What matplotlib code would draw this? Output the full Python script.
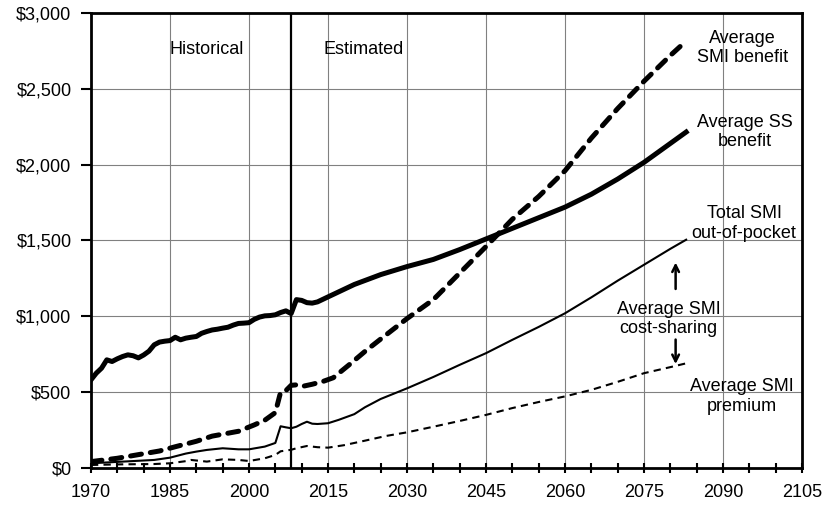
import matplotlib
matplotlib.use("Agg")
import matplotlib.pyplot as plt
from matplotlib.ticker import MultipleLocator, FuncFormatter

plt.rcParams['font.family'] = ['Liberation Sans', 'DejaVu Sans']
plt.rcParams['font.size'] = 13

# Average SS benefit (thick solid)
ss_years = [1970, 1971, 1972, 1973, 1974, 1975, 1976, 1977, 1978, 1979, 1980, 1981, 1982,
            1983, 1984, 1985, 1986, 1987, 1988, 1989, 1990, 1991, 1992, 1993, 1994, 1995,
            1996, 1997, 1998, 1999, 2000, 2001, 2002, 2003, 2004, 2005, 2006, 2007, 2008,
            2009, 2010, 2011, 2012, 2013, 2015, 2020, 2025, 2030, 2035, 2040, 2045, 2050,
            2055, 2060, 2065, 2070, 2075, 2080, 2083]
ss_benefit = [581, 625, 658, 713, 702, 720, 735, 746, 740, 726, 745, 770, 812,
              830, 836, 840, 862, 845, 856, 862, 867, 888, 900, 910, 915, 922,
              928, 942, 953, 955, 958, 980, 995, 1003, 1005, 1010, 1025, 1036, 1018,
              1110, 1105, 1090, 1087, 1095, 1128, 1210, 1275, 1328, 1375, 1440, 1510, 1580,
              1650, 1720, 1805, 1905, 2015, 2140, 2215]

# Average SMI benefit (thick dashed)
smi_years = [1970, 1975, 1979, 1983, 1986, 1990, 1993, 1998, 2001, 2003, 2005, 2006, 2007,
             2008, 2009, 2010, 2012, 2014, 2016, 2019, 2022, 2025, 2030, 2035, 2040, 2045,
             2050, 2055, 2060, 2065, 2070, 2075, 2080, 2083]
smi_benefit = [42, 64, 88, 112, 140, 176, 210, 242, 284, 315, 365, 500, 510,
               545, 548, 537, 552, 570, 595, 680, 768, 850, 985, 1110, 1285, 1460,
               1640, 1790, 1960, 2175, 2370, 2550, 2720, 2815]

# Total SMI out-of-pocket (thin solid)
oop_years = [1970, 1976, 1982, 1985, 1988, 1990, 1992, 1995, 1998, 2000, 2003, 2005, 2006,
             2007, 2008, 2009, 2010, 2011, 2012, 2013, 2015, 2017, 2020, 2022, 2025, 2030,
             2035, 2040, 2045, 2050, 2055, 2060, 2065, 2070, 2075, 2080, 2083]
oop_total = [31, 42, 53, 68, 95, 108, 119, 130, 123, 123, 141, 165, 275,
             268, 262, 272, 290, 305, 292, 290, 295, 317, 355, 400, 455, 525,
             600, 680, 757, 845, 930, 1020, 1125, 1235, 1340, 1445, 1505]

# Average SMI premium (thin dashed)
prem_years = [1970, 1976, 1982, 1985, 1988, 1989, 1992, 1995, 1998, 2000, 2003, 2005, 2006,
              2008, 2009, 2011, 2013, 2015, 2018, 2022, 2026, 2030, 2035, 2040, 2045, 2050,
              2055, 2060, 2065, 2070, 2075, 2080, 2083]
premium = [20, 24, 26, 31, 45, 53, 42, 57, 53, 46, 64, 86, 110,
           120, 130, 145, 137, 134, 150, 180, 211, 235, 272, 310, 350, 395,
           435, 472, 515, 568, 625, 665, 690]

x_ticks = [1970, 1985, 2000, 2015, 2030, 2045, 2060, 2075, 2090, 2105]

fig = plt.figure(figsize=(8.22, 5.15), dpi=100)
ax = fig.add_axes([0.1107, 0.0913, 0.865, 0.8835])

ax.plot(ss_years, ss_benefit, color="black", lw=3.6, solid_joinstyle="round", zorder=4)
ax.plot(smi_years, smi_benefit, color="black", lw=3.6, linestyle=(0, (2.2, 1.8)),
        dash_capstyle="round", zorder=4)
ax.plot(oop_years, oop_total, color="black", lw=1.5, zorder=4)
ax.plot(prem_years, premium, color="black", lw=1.5, linestyle=(0, (3.5, 2.5)), zorder=4)

ax.axvline(2008, color="black", lw=1.6, zorder=3)

ax.set_xlim(1970, 2105)
ax.set_ylim(0, 3000)
ax.set_xticks(x_ticks)
ax.set_xticklabels([str(y) for y in x_ticks])
ax.xaxis.set_minor_locator(MultipleLocator(5))
ax.yaxis.set_major_locator(MultipleLocator(500))
ax.yaxis.set_major_formatter(FuncFormatter(lambda v, p: "${:,.0f}".format(v)))
ax.grid(True, which="major", color="#808080", lw=0.8)
ax.set_axisbelow(True)
ax.tick_params(axis="x", which="both", direction="inout", length=7, width=1.5, pad=8)
ax.tick_params(axis="y", which="major", direction="out", length=7, width=1.5, pad=7)
for s in ax.spines.values():
    s.set_linewidth(2)

ax.text(1992, 2760, "Historical", ha="center", va="center")
ax.text(2021.8, 2760, "Estimated", ha="center", va="center")
ax.text(2093.7, 2770, "Average\nSMI benefit", ha="center", va="center")
ax.text(2094.2, 2214, "Average SS\nbenefit", ha="center", va="center")
ax.text(2094, 1611, "Total SMI\nout-of-pocket", ha="center", va="center")
ax.text(2079.7, 983, "Average SMI\ncost-sharing", ha="center", va="center")
ax.text(2093.5, 472, "Average SMI\npremium", ha="center", va="center")

arrow = dict(arrowstyle="->", color="black", lw=1.8, mutation_scale=12)
ax.annotate("", xy=(2081, 1373), xytext=(2081, 1162), arrowprops=arrow)
ax.annotate("", xy=(2081, 667), xytext=(2081, 865), arrowprops=arrow)

fig.savefig("out.png", dpi=100)
